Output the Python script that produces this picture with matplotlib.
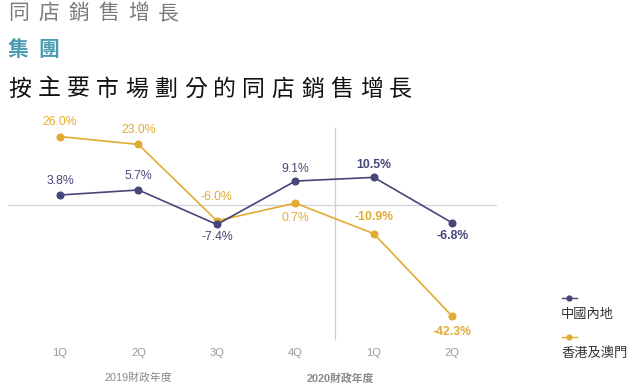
import matplotlib.pyplot as plt
from matplotlib.lines import Line2D

plt.rcParams['font.family'] = ['Liberation Sans', 'Noto Sans CJK TC']

# Data
quarters = ["1Q", "2Q", "3Q", "4Q", "1Q", "2Q"]
china = [3.8, 5.7, -7.4, 9.1, 10.5, -6.8]
hk_macau = [26.0, 23.0, -6.0, 0.7, -10.9, -42.3]
series_names = ["中國內地", "香港及澳門"]
years = ["2019財政年度", "2020財政年度"]

# label offsets in points (positive = above)
china_off = [10, 10, -9, 9, 9, -9.5]
hk_off = [10.5, 10.5, 17, -11, 12, -11.5]

navy = "#47467a"
gold = "#e2ab32"
grey = "#8a8a8a"

W, H = 640, 392
fig = plt.figure(figsize=(6.4, 3.92), dpi=100)
fig.patch.set_facecolor("white")

def px(x, y):
    return x / W, 1 - y / H

# header texts, spaced out character by character
for i, ch in enumerate("同店銷售增長"):
    fig.text(*px(8 + i * 30, 13), ch, fontsize=15, color="#7b7b7b",
             va="center", ha="left", family="Noto Sans CJK TC")
for i, ch in enumerate("集團"):
    fig.text(*px(8 + i * 30, 50), ch, fontsize=15, color="#4a9ab0",
             weight="bold", va="center", ha="left", family="Noto Sans CJK TC")
for i, ch in enumerate("按主要市場劃分的同店銷售增長"):
    fig.text(*px(8 + i * 29.3, 89), ch, fontsize=16.5, color="#111111",
             style="italic", va="center", ha="left", family="Noto Sans CJK TC")

ax = fig.add_axes([8 / W, 1 - 345 / H, (497 - 8) / W, 225 / H])
x = list(range(len(quarters)))

ax.axhline(0, color="#d2d2dc", lw=0.9, zorder=1)
ax.vlines(3.5, -51.3, 29.7, color="#cfcfcf", lw=0.9, zorder=1)

ax.plot(x, hk_macau, color=gold, lw=1.2, marker="o", ms=4.8, zorder=3)
ax.plot(x, china, color=navy, lw=1.2, marker="o", ms=4.8, zorder=4)

for xi, v, o in zip(x, china, china_off):
    ax.annotate(f"{v:.1f}%", (xi, v), xytext=(0, o), textcoords="offset points",
                ha="center", va="center", fontsize=8.8, color=navy,
                weight="bold" if xi >= 4 else "normal")
for xi, v, o in zip(x, hk_macau, hk_off):
    ax.annotate(f"{v:.1f}%", (xi, v), xytext=(0, o), textcoords="offset points",
                ha="center", va="center", fontsize=8.8, color=gold,
                weight="bold" if xi >= 4 else "normal")

ax.set_xlim(-0.663, 5.57)
ax.set_ylim(-53.2, 32.3)
ax.set_xticks(x)
ax.set_xticklabels(quarters, fontsize=8, color="#999999")
ax.tick_params(axis="x", length=0, pad=2)
ax.set_yticks([])
for s in ax.spines.values():
    s.set_visible(False)

ax.text(1, -0.147, years[0], transform=ax.get_xaxis_transform(), ha="center",
        va="center", fontsize=7.8, color=grey)
ax.text(3.57, -0.147, years[1], transform=ax.get_xaxis_transform(), ha="center",
        va="center", fontsize=7.8, color=grey, weight="bold")

# legend with label under the handle
for i, (name, c) in enumerate(zip(series_names, [navy, gold])):
    y0 = 298 + i * 39
    fig.add_artist(Line2D([562 / W, 566 / W], [1 - y0 / H] * 2, color=c, lw=1.0))
    fig.add_artist(Line2D([572 / W, 577 / W], [1 - y0 / H] * 2, color=c, lw=1.0))
    fig.add_artist(Line2D([569 / W], [1 - y0 / H], color=c, marker="o", ms=3.5))
    fig.text(*px(561, y0 + 17), name, fontsize=9.5, color="#333333",
             va="center", ha="left")

fig.savefig("out.png", dpi=100)
